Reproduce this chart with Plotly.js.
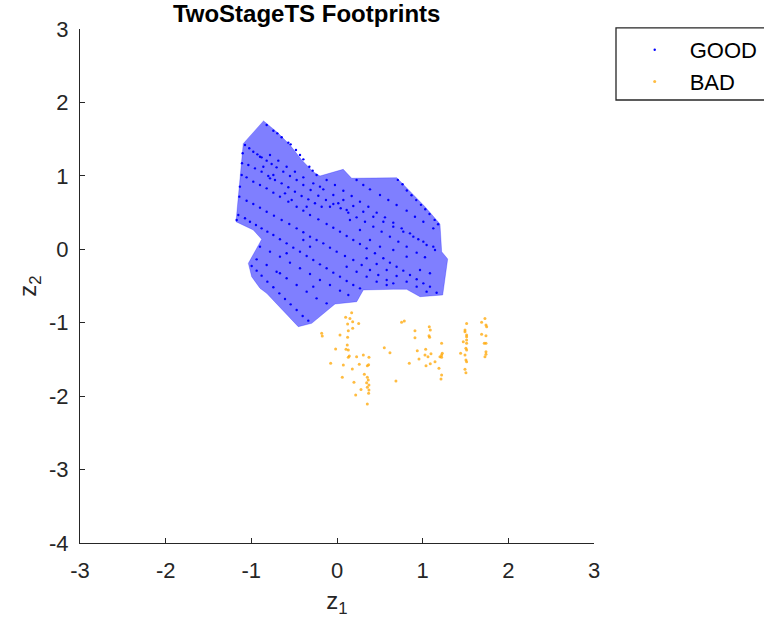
<!DOCTYPE html>
<html>
<head>
<meta charset="utf-8">
<script src="https://cdn.plot.ly/plotly-3.0.1.min.js"></script>
<style>html,body{margin:0;padding:0;background:#fff;}</style>
</head>
<body>
<div id="chart" style="width:764px;height:627px;"></div>
<script>
// Footprint polygon (GOOD region)
const polyX = [-0.860,-0.689,-0.549,-0.412,-0.280,-0.199,0.073,0.171,0.697,0.813,1.027,1.202,1.222,1.292,1.234,0.969,0.813,0.657,0.307,0.230,-0.023,-0.295,-0.452,-0.821,-0.899,-0.996,-1.035,-0.879,-0.977,-1.179,-1.094];
const polyY = [1.751,1.584,1.420,1.216,1.057,0.998,1.089,0.967,0.975,0.831,0.580,0.344,-0.033,-0.132,-0.622,-0.646,-0.545,-0.545,-0.554,-0.714,-0.745,-1.008,-1.054,-0.599,-0.531,-0.373,-0.191,0.136,0.263,0.376,1.443];

// GOOD instances
const goodX = [
-0.821,-0.743,-0.697,-0.646,-0.568,-0.541,-0.479,-0.432,-0.393,-0.323,-0.284,-0.238,
-1.074,-1.024,-0.977,-0.930,-0.880,-0.821,-0.763,-0.705,-0.627,-0.549,-0.471,-0.393,-0.308,-0.218,-0.129,-0.043,0.043,0.132,0.229,0.327,0.424,0.521,0.618,0.716,0.813,0.930,1.027,
-1.113,-1.055,-0.977,-0.899,-0.821,-0.743,-0.666,-0.568,-0.471,-0.393,-0.315,-0.218,-0.121,-0.043,0.035,0.113,0.190,0.268,0.346,0.443,0.541,0.618,0.696,0.774,0.852,0.930,1.008,1.085,
-1.140,-1.055,-0.977,-0.899,-0.821,-0.736,-0.646,-0.557,-0.471,-0.393,-0.315,-0.238,-0.160,-0.082,-0.004,0.093,0.190,0.288,0.385,0.482,0.580,0.657,
-1.152,-1.074,-1.016,-0.946,-0.880,-0.813,-0.743,-0.666,-0.588,-0.510,-0.432,-0.354,-0.277,-0.199,-0.121,-0.043,0.035,0.113,0.190,0.268,
-0.996,-0.938,-0.880,-0.813,-0.743,-0.673,-0.607,-0.541,-0.471,-0.401,-0.335,
-0.899,-0.782,-0.666,-0.549,-0.432,-0.315,-0.199,-0.082,0.035,0.132,
-0.938,-0.821,-0.705,-0.588,-0.471,-0.354,-0.238,-0.121,
-0.782,-0.685,-0.588,-0.491,-0.393,-0.277,-0.160,-0.043,0.074,0.190,0.307,0.424,0.541,0.657,0.774,0.891,1.008,1.124,
0.229,0.307,0.385,0.502,0.599,0.696,0.813,0.910,1.008,1.124,
0.710,0.765,0.815,0.870,0.925,0.980,1.030,1.080,1.140,1.180,
-0.121,-0.024,0.074,0.171,0.268,0.366,0.463,0.560,0.657,0.755,0.852,0.949,1.046,1.144,
0.346,0.463,0.580,0.696,0.813,0.930,1.046,1.163,
-1.035,-0.957,-0.880,-0.802,-0.724,-0.646,-0.568,-0.491,-0.413,-0.335,-0.257,-0.179,
0.113,0.229,0.346,0.463,0.580,
-1.101,-1.109,-1.133,-1.171,
-0.899,-0.860,-0.782,-0.743,-0.607,-0.529,-0.354,-0.199,-0.082,0.015,0.113,0.151,0.268,0.385,0.502,0.657,0.813,0.969,1.085,-0.393,-0.315,-0.588,-0.666,-0.277
];
const goodY = [
1.693,1.615,1.579,1.525,1.452,1.429,1.352,1.284,1.225,1.125,1.071,1.012,
1.420,1.375,1.329,1.293,1.252,1.207,1.161,1.116,1.057,0.998,0.944,0.875,0.807,0.730,0.671,0.617,0.558,0.499,0.435,0.376,0.308,0.240,0.172,0.104,0.036,-0.046,-0.109,
1.012,0.980,0.921,0.875,0.830,0.771,0.717,0.649,0.580,0.526,0.467,0.408,0.344,0.294,0.240,0.181,0.126,0.072,0.013,-0.055,-0.123,-0.182,-0.237,-0.291,-0.350,-0.409,-0.464,-0.509,
0.717,0.662,0.617,0.567,0.512,0.458,0.399,0.344,0.285,0.231,0.172,0.126,0.081,0.022,-0.032,-0.091,-0.146,-0.214,-0.282,-0.350,-0.418,-0.464,
0.467,0.422,0.376,0.331,0.285,0.240,0.195,0.136,0.081,0.022,-0.032,-0.091,-0.146,-0.205,-0.259,-0.318,-0.373,-0.432,-0.486,-0.532,
-0.228,-0.291,-0.359,-0.441,-0.518,-0.600,-0.677,-0.750,-0.827,-0.908,-0.972,
0.036,-0.032,-0.100,-0.182,-0.259,-0.337,-0.418,-0.486,-0.563,-0.622,
-0.137,-0.214,-0.305,-0.395,-0.486,-0.577,-0.668,-0.736,
1.284,1.207,1.125,1.057,0.980,0.898,0.816,0.739,0.671,0.590,0.512,0.444,0.376,0.308,0.240,0.172,0.104,0.036,
0.944,0.875,0.816,0.739,0.671,0.603,0.526,0.444,0.376,0.285,
0.945,0.885,0.800,0.735,0.670,0.605,0.545,0.480,0.400,0.340,
0.944,0.875,0.798,0.726,0.649,0.580,0.499,0.435,0.363,0.285,0.217,0.136,0.058,-0.010,
-0.123,-0.200,-0.282,-0.364,-0.441,-0.509,-0.577,-0.591,
1.148,1.102,1.057,0.998,0.944,0.898,0.844,0.785,0.726,0.680,0.626,0.580,
-0.237,-0.305,-0.373,-0.441,-0.486,
1.307,1.171,0.853,0.399,
1.261,1.125,0.966,1.012,0.762,0.671,0.580,0.853,0.580,0.626,0.535,0.399,0.263,0.126,0.036,-0.010,-0.100,-0.282,-0.327,0.126,0.036,-0.055,-0.327,-0.509
];

// BAD instances
const badX = [
0.171,0.101,0.151,0.183,0.253,0.124,0.183,0.132,-0.179,-0.172,0.035,0.124,0.120,0.105,0.132,-0.016,0.144,0.132,0.229,0.307,0.373,-0.074,0.074,0.260,0.179,0.354,0.369,0.319,0.062,0.354,0.365,0.346,0.198,0.373,0.354,0.280,0.373,0.369,0.218,0.354,0.552,0.618,0.688,
0.754,0.786,0.910,0.910,1.077,1.089,1.074,1.081,0.937,0.957,0.844,1.035,1.027,1.062,1.097,1.039,1.089,1.144,1.190,1.221,1.229,1.221,1.202,1.221,1.221,1.214,
1.443,1.474,1.494,1.513,1.494,1.513,1.513,1.513,1.513,1.505,1.513,1.494,1.505,1.513,1.494,1.505,
1.688,1.727,1.739,1.747,1.739,1.688,1.739,1.719,1.739,1.739,1.727
];
const badY = [
-0.863,-0.927,-0.941,-0.986,-1.009,-1.018,-1.077,-1.109,-1.145,-1.181,-1.168,-1.199,-1.304,-1.363,-1.372,-1.358,-1.454,-1.472,-1.463,-1.440,-1.472,-1.553,-1.576,-1.567,-1.631,-1.585,-1.572,-1.703,-1.744,-1.744,-1.780,-1.817,-1.812,-1.849,-1.880,-1.908,-1.917,-1.962,-1.985,-2.107,-1.340,-1.408,-1.794,
-0.995,-0.977,-1.109,-1.204,-1.054,-1.099,-1.177,-1.199,-1.381,-1.494,-1.553,-1.363,-1.440,-1.463,-1.422,-1.585,-1.558,-1.531,-1.621,-1.281,-1.417,-1.440,-1.463,-1.472,-1.712,-1.767,
-1.417,-1.258,-1.122,-1.009,-1.099,-1.168,-1.190,-1.236,-1.281,-1.349,-1.372,-1.440,-1.508,-1.531,-1.635,-1.680,
-0.995,-0.941,-1.031,-1.054,-1.177,-1.158,-1.281,-1.281,-1.395,-1.431,-1.463
];

// Axis ticks
const xTicks = [-3,-2,-1,0,1,2,3];
const xTickText = ['-3','-2','-1','0','1','2','3'];
const yTicks = [-4,-3,-2,-1,0,1,2,3];
const yTickText = ['-4','-3','-2','-1','0','1','2','3'];
const seriesNames = ['GOOD','BAD'];

const FONT = 'Liberation Sans, Arial, Helvetica, sans-serif';
const AX = '#262626';

const traces = [
  {type:'scatter', mode:'lines', x:polyX, y:polyY, fill:'toself',
   fillcolor:'rgba(0,0,255,0.5)', line:{color:'rgba(0,0,255,0.5)', width:0.5},
   showlegend:false, hoverinfo:'skip'},
  {type:'scatter', mode:'markers', x:goodX, y:goodY, name:seriesNames[0],
   marker:{color:'rgb(0,0,255)', size:2.4}, legendgroup:'g1'},
  {type:'scatter', mode:'markers', x:badX, y:badY, name:seriesNames[1],
   marker:{color:'rgba(255,165,0,0.75)', size:3}, legendgroup:'g2'}
];

const axisCommon = {
  showgrid:false, zeroline:false, showline:true, linecolor:AX, linewidth:1,
  ticks:'inside', ticklen:5, tickwidth:1, tickcolor:AX,
  tickfont:{family:FONT, size:22, color:AX}, fixedrange:true
};

const layout = {
  width:764, height:627,
  margin:{l:80, r:170, t:29, b:84, autoexpand:false},
  paper_bgcolor:'#ffffff', plot_bgcolor:'#ffffff',
  font:{family:FONT, color:AX},
  title:{text:'<b>TwoStageTS Footprints</b>', font:{family:FONT, size:24, color:'#000'},
         x:0.441, xanchor:'center', xref:'paper', y:0.979, yanchor:'middle'},
  xaxis:Object.assign({}, axisCommon, {range:[-3,3], tickvals:xTicks, ticktext:xTickText,
         ticklabelstandoff:8,
         title:{text:'z<sub>1</sub>', font:{family:FONT, size:24, color:AX}, standoff:9}}),
  yaxis:Object.assign({}, axisCommon, {range:[-4,3], tickvals:yTicks, ticktext:yTickText,
         ticklabelstandoff:6,
         title:{text:'z<sub>2</sub>', font:{family:FONT, size:24, color:AX}, standoff:5}}),
  legend:{x:1.05, y:1.0, xanchor:'left', yanchor:'top', itemwidth:60,
          font:{family:FONT, size:22, color:'#000'}, bgcolor:'rgba(0,0,0,0)',
          borderwidth:0, tracegroupgap:0},
  shapes:[{type:'rect', xref:'paper', yref:'paper', x0:1.0428, x1:1.40, y0:0.8619, y1:1.002,
           line:{color:AX, width:1.3}, fillcolor:'rgba(0,0,0,0)'}],
  showlegend:true
};

Plotly.newPlot('chart', traces, layout, {displayModeBar:false, staticPlot:true});
</script>
</body>
</html>
